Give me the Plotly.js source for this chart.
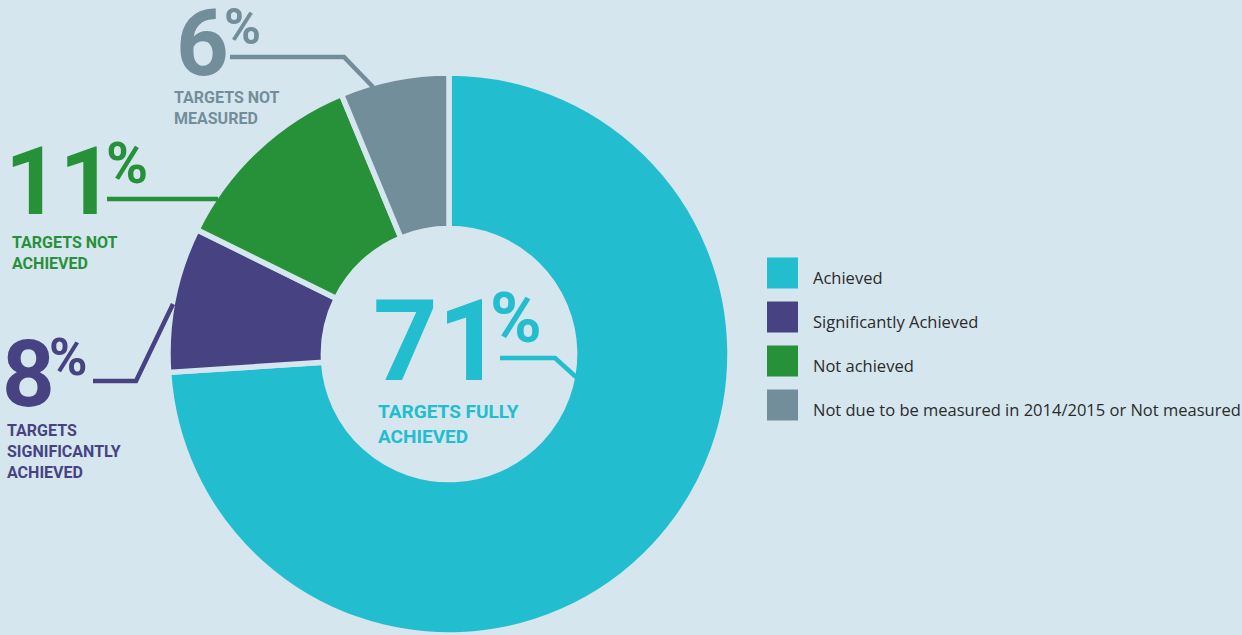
<!DOCTYPE html>
<html>
<head>
<meta charset="utf-8">
<script src="https://cdn.plot.ly/plotly-3.0.1.min.js"></script>
<style>
  html, body { margin: 0; padding: 0; background: #d5e6ee; }
  #chart { width: 1242px; height: 635px; }
</style>
</head>
<body>
<div id="chart"></div>
<script>
// ---- data ----
const labels = ['Achieved', 'Significantly Achieved', 'Not achieved', 'Not due to be measured in 2014/2015 or Not measured'];
const values = [71, 8, 11, 6];
const colors = ['#22becf', '#474383', '#27913a', '#728e9b'];
const captions = ['TARGETS FULLY<br>ACHIEVED', 'TARGETS<br>SIGNIFICANTLY<br>ACHIEVED', 'TARGETS NOT<br>ACHIEVED', 'TARGETS NOT<br>MEASURED'];

// ---- layout constants (pixels) ----
const W = 1242, H = 635;
const BG = '#d5e6ee';
const NARROW = 'Roboto, Liberation Sans, sans-serif';
const px = x => x / W;
const py = y => 1 - y / H;

// callout placement per slice (pixel positions, styling only)
const callouts = [
  { num: [371, 341, 113], pct: [488, 318, 70], cap: [376, 424, 19], line: [[500, 358], [555, 358], [576, 377]] },
  { num: [0, 374, 92],    pct: [47, 357, 52],  cap: [5, 451, 16],   line: [[93, 381], [136, 381], [173, 304]] },
  { num: [3, 181, 95],    pct: [104, 163, 57], cap: [10, 253, 16],  line: [[107, 199], [218, 199]] },
  { num: [174, 43, 92],   pct: [222, 27, 50],  cap: [172, 108, 16], line: [[230, 57], [344, 57], [373, 87]] }
];

const trace = {
  type: 'pie',
  labels: labels,
  values: values,
  sort: false,
  direction: 'clockwise',
  rotation: 0,
  hole: 0.447,
  textinfo: 'none',
  hoverinfo: 'label+percent',
  marker: { colors: colors, line: { color: BG, width: 5.5 } },
  domain: { x: [px(168), px(730)], y: [0, 562 / H] },
  showlegend: false
};

const annotations = [];
const shapes = [];

callouts.forEach((c, i) => {
  annotations.push({
    xref: 'paper', yref: 'paper', x: px(c.num[0]), y: py(c.num[1]),
    xanchor: 'left', yanchor: 'middle', showarrow: false,
    text: '<b>' + values[i] + '</b>',
    font: { family: NARROW, size: c.num[2], color: colors[i] }
  });
  annotations.push({
    xref: 'paper', yref: 'paper', x: px(c.pct[0]), y: py(c.pct[1]),
    xanchor: 'left', yanchor: 'middle', showarrow: false,
    text: '<b>%</b>',
    font: { family: NARROW, size: c.pct[2], color: colors[i] }
  });
  annotations.push({
    xref: 'paper', yref: 'paper', x: px(c.cap[0]), y: py(c.cap[1]),
    xanchor: 'left', yanchor: 'middle', align: 'left', showarrow: false,
    text: '<b>' + captions[i] + '</b>',
    font: { family: NARROW, size: c.cap[2], color: colors[i] }
  });
  const path = c.line.map((p, k) => (k === 0 ? 'M ' : 'L ') + px(p[0]) + ' ' + py(p[1])).join(' ');
  shapes.push({
    type: 'path', xref: 'paper', yref: 'paper', path: path,
    line: { color: colors[i], width: 4.5 }, layer: 'above'
  });
});

// custom legend
const legX = 767, legY0 = 273, legStep = 44, legSize = 31;
labels.forEach((lab, i) => {
  const cy = legY0 + i * legStep;
  shapes.push({
    type: 'rect', xref: 'paper', yref: 'paper',
    x0: px(legX), x1: px(legX + legSize),
    y0: py(cy + legSize / 2), y1: py(cy - legSize / 2),
    fillcolor: colors[i], line: { width: 0 }
  });
  annotations.push({
    xref: 'paper', yref: 'paper', x: px(811), y: py(cy + 4),
    xanchor: 'left', yanchor: 'middle', showarrow: false,
    text: lab,
    font: { family: 'Open Sans, sans-serif', size: 16.5, color: '#2b2b2b' }
  });
});

const layout = {
  width: W, height: H,
  margin: { l: 0, r: 0, t: 0, b: 0 },
  paper_bgcolor: BG, plot_bgcolor: BG,
  showlegend: false,
  annotations: annotations,
  shapes: shapes
};

Plotly.newPlot('chart', [trace], layout, { displayModeBar: false, staticPlot: true });
</script>
</body>
</html>
